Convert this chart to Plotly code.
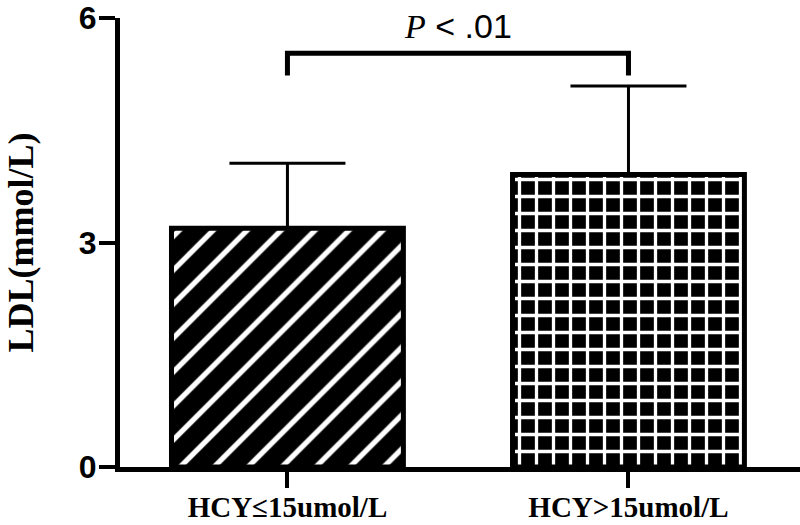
import plotly.graph_objects as go

categories = ["HCY≤15umol/L", "HCY>15umol/L"]
ldl_mean = [3.19, 3.91]
ldl_sd = [0.87, 1.18]
patterns = ["/", "+"]
y_ticks = [0, 3, 6]
bracket_low = 5.23
bracket_high = 5.53

fig = go.Figure()

for i, cat in enumerate(categories):
    fig.add_trace(go.Bar(
        x=[cat], y=[ldl_mean[i]],
        width=0.68,
        marker=dict(
            color="black",
            line=dict(color="black", width=5),
            pattern=dict(shape=patterns[i], fgcolor="white", bgcolor="black",
                         size=24 if i == 0 else 17, solidity=0.22 if i == 0 else 0.35,
                         fillmode="replace"),
        ),
        error_y=dict(type="data", symmetric=False, array=[ldl_sd[i]], arrayminus=[0],
                     color="black", thickness=3, width=58),
        showlegend=False,
    ))

fig.add_trace(go.Scatter(
    x=[categories[0], categories[0], categories[1], categories[1]],
    y=[bracket_low, bracket_high, bracket_high, bracket_low],
    mode="lines", line=dict(color="black", width=5), showlegend=False,
    hoverinfo="skip",
))

fig.add_annotation(
    x=0.5, xref="x", y=bracket_high, yref="y", yshift=6,
    text='<span style="font-family:Liberation Serif"><i>P</i></span> < .01',
    showarrow=False, yanchor="bottom",
    font=dict(family="Liberation Sans", size=34, color="black"),
)

# y-axis title placed as a rotated annotation
fig.add_annotation(
    x=0, xref="paper", y=0.5, yref="paper", xshift=-100,
    text="LDL(mmol/L)", textangle=-90, showarrow=False,
    xanchor="center", yanchor="middle",
    font=dict(family="Liberation Serif", size=36, color="black", weight="bold"),
)

fig.update_layout(
    width=800, height=525, autosize=False,
    margin=dict(l=120, r=0, t=15, b=58),
    paper_bgcolor="white", plot_bgcolor="white",
    xaxis=dict(
        type="category", range=[-0.491, 1.503],
        showline=True, linecolor="black", linewidth=5,
        ticks="outside", ticklen=16, tickwidth=4, tickcolor="black",
        showgrid=False, zeroline=False,
        ticklabelstandoff=-6,
        tickfont=dict(family="Liberation Serif", size=29, color="black", weight="bold"),
    ),
    yaxis=dict(
        range=[0, 6], tickvals=y_ticks,
        showline=True, linecolor="black", linewidth=5,
        ticks="outside", ticklen=16, tickwidth=4, tickcolor="black",
        showgrid=False, zeroline=False,
        ticklabeloverflow="allow", ticklabelstandoff=-4,
        tickfont=dict(family="Liberation Sans", size=32, color="black", weight="bold"),
    ),
)

fig.write_html("out.html", config={"displayModeBar": False},
               post_script="document.body.style.margin='0';")
